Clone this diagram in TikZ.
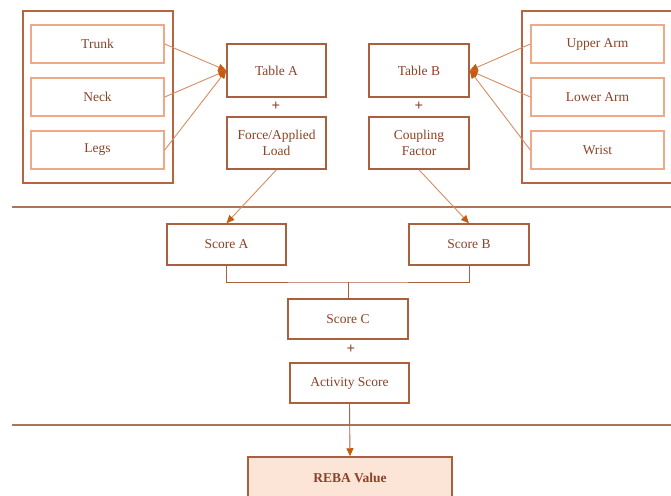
\documentclass[tikz,border=0pt]{standalone}
\usepackage{fontspec}
\setmainfont{Liberation Serif}
\usetikzlibrary{arrows.meta}
\definecolor{txt}{HTML}{8B4226}
\definecolor{boxline}{HTML}{A9603F}
\definecolor{grpline}{HTML}{B5653F}
\definecolor{partline}{HTML}{EFA988}
\definecolor{partshade}{HTML}{C8B8B0}
\definecolor{conncol}{HTML}{D68C63}
\definecolor{headcol}{HTML}{C55A11}
\definecolor{rule}{HTML}{AC7458}
\definecolor{rebafill}{HTML}{FCE4D6}
\tikzset{
  every node/.style={font=\fontsize{13.5}{16}\selectfont, text=txt, align=center, inner sep=0pt},
  grp/.style={draw=grpline, line width=1.5pt, minimum width=150pt, minimum height=172pt},
  part/.style={draw=partline, line width=1.4pt, minimum width=133pt, minimum height=38pt,
    preaction={draw=partshade, line width=2.6pt}},
  stepbox/.style={draw=boxline, line width=1.5pt, fill=white},
  conn/.style={draw=conncol, line width=0.9pt},
  tip/.style={-{Triangle[length=8pt,width=7pt,fill=headcol,color=headcol]}},
  divider/.style={draw=rule, line width=2pt},
  plus/.style={font=\fontsize{15}{15}\bfseries\selectfont},
}
\begin{document}
\begin{tikzpicture}[x=1pt,y=-1pt]
\useasboundingbox (0,0) rectangle (671,495);

% group frames
\node[grp] (gl) at (98,97) {};
\node[grp] (gr) at (597,97) {};

% body parts, left group
\node[part] (trunk) at (97.5,44) {Trunk};
\node[part] (neck) at (97.5,97) {Neck};
\node[part] (legs) at (97.5,150) {Legs};

% body parts, right group
\node[part] (uarm) at (597.5,44) {Upper Arm};
\node[part] (larm) at (597.5,97) {Lower Arm};
\node[part] (wrist) at (597.5,150) {Wrist};

% tables and modifiers
\node[stepbox, minimum width=99pt, minimum height=53pt] (ta) at (276.5,70.5) {Table A};
\node[stepbox, minimum width=99pt, minimum height=52pt] (fl) at (276.5,143) {Force/Applied\\Load};
\node[stepbox, minimum width=100pt, minimum height=53pt] (tb) at (419,70.5) {Table B};
\node[stepbox, minimum width=100pt, minimum height=52pt] (cf) at (419,143) {Coupling\\Factor};
\node[plus] (pa) at (276,106.5) {+};
\node[plus] (pb) at (419,106.5) {+};

% scores
\node[stepbox, minimum width=119pt, minimum height=41pt] (sa) at (226.5,244.5) {Score A};
\node[stepbox, minimum width=120pt, minimum height=41pt] (sb) at (469,244.5) {Score B};
\node[stepbox, minimum width=120pt, minimum height=40pt] (sc) at (348,319) {Score C};
\node[plus] (pc) at (351,349) {+};
\node[stepbox, minimum width=119pt, minimum height=40pt] (as) at (349.5,383) {Activity Score};
\node[stepbox, fill=rebafill, minimum width=204pt, minimum height=60pt] (reba) at (350,487) {};
\node[font=\fontsize{13.5}{16}\bfseries\selectfont] (rebat) at (350,478) {REBA Value};

% stage dividers
\coordinate (d1l) at (12,207);
\coordinate (d1r) at (671,207);
\coordinate (d2l) at (12,425);
\coordinate (d2r) at (671,425);
\draw[divider] (d1l) -- (d1r);
\draw[divider] (d2l) -- (d2r);

% inputs into the tables
\draw[conn, tip] (trunk.east) -- (ta.west);
\draw[conn, tip] (neck.east) -- (ta.west);
\draw[conn, tip] (legs.east) -- (ta.west);
\draw[conn, tip] (uarm.west) -- (tb.east);
\draw[conn, tip] (larm.west) -- (tb.east);
\draw[conn, tip] (wrist.west) -- (tb.east);

% tables to scores
\draw[conn, tip] (fl.south) -- (sa.north);
\draw[conn, tip] (cf.south) -- (sb.north);

% scores A and B combine into score C
\coordinate (j) at (348,282);
\draw[draw=boxline, line width=0.9pt] (sa.south) |- (j) -| (sb.south);
\draw[draw=boxline, line width=0.9pt] (j) -- (sc.north);

% final result
\draw[draw=boxline!70!gray, line width=0.9pt, tip] (as.south) -- (reba.north);
\end{tikzpicture}
\end{document}
